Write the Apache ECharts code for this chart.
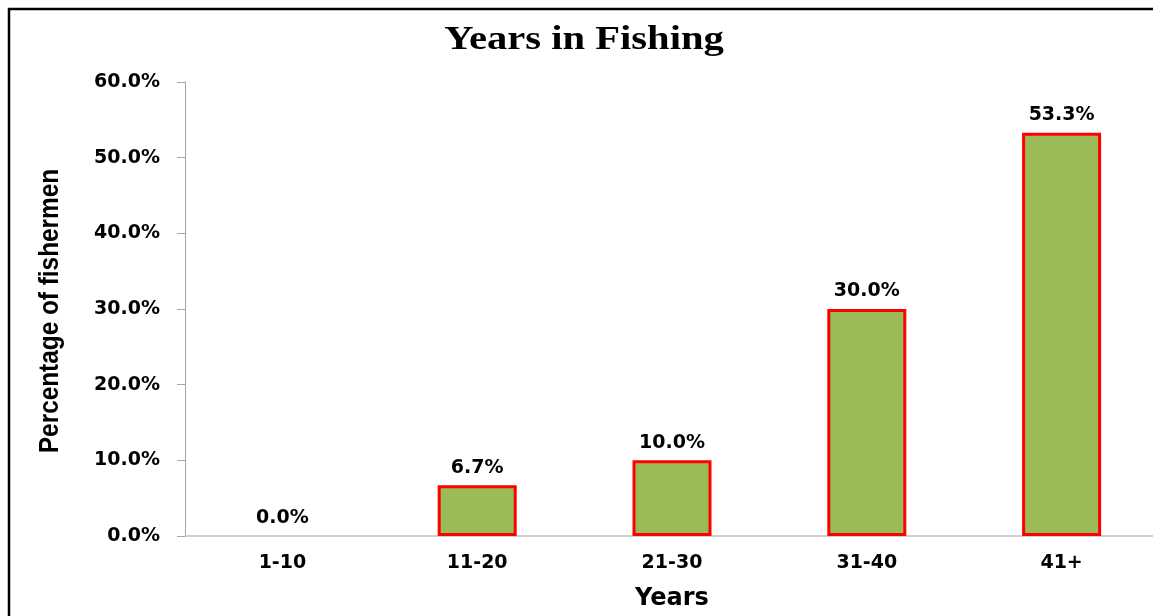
<!DOCTYPE html>
<html>
<head>
	<meta charset="utf-8" />
	<title>Years in Fishing</title>
	<script src="https://cdn.jsdelivr.net/npm/echarts@6/dist/echarts.min.js"></script>
	<style>
		html, body { margin: 0; padding: 0; background: #fff; overflow: hidden; }
		#main { width: 1153px; height: 616px; }
	</style>
</head>
<body>
	<div id="main"></div>

	<script type="text/javascript">
		// data
		var years = ['1-10', '11-20', '21-30', '31-40', '41+'];
		var percentFishermen = [0.0, 6.7, 10.0, 30.0, 53.3];
		var yTicks = [0, 10, 20, 30, 40, 50, 60];

		var labelFont = '"DejaVu Sans", Verdana, sans-serif';

		var myChart = echarts.init(document.getElementById('main'));

		// a bar of 0 shows no outline
		var barData = percentFishermen.map(function (v) {
			return v === 0 ? { value: v, itemStyle: { borderWidth: 0 } } : v;
		});

		var option = {
			animation: false,
			backgroundColor: '#fff',
			graphic: [{
				// frame round the chart (left and top edges show)
				type: 'rect',
				shape: { x: 9, y: 9, width: 1160, height: 620 },
				style: { fill: 'none', stroke: '#000', lineWidth: 2.5 },
				silent: true
			}, {
				// title, stretched wide like the original
				type: 'text',
				x: 584,
				y: 40,
				scaleX: 1.23,
				style: {
					text: 'Years in Fishing',
					align: 'center',
					verticalAlign: 'middle',
					font: 'bold 33px "Liberation Serif", "DejaVu Serif", serif',
					fill: '#000'
				},
				silent: true
			}, {
				// y axis title, narrow and tall
				type: 'text',
				x: 50,
				y: 311,
				rotation: Math.PI / 2,
				scaleX: 0.87,
				style: {
					text: 'Percentage of fishermen',
					align: 'center',
					verticalAlign: 'middle',
					font: 'bold 28px "Liberation Sans", Arial, sans-serif',
					fill: '#000'
				},
				silent: true
			}],
			grid: {
				left: 185,
				top: 82,
				width: 974,
				height: 454,
				outerBoundsMode: 'none',
				containLabel: false
			},
			xAxis: {
				type: 'category',
				data: years,
				name: 'Years',
				nameLocation: 'middle',
				nameGap: 51,
				nameTextStyle: {
					fontFamily: labelFont,
					fontWeight: 'bold',
					fontSize: 24,
					color: '#000'
				},
				axisLine: { lineStyle: { color: '#d0d0d0', width: 2 } },
				axisTick: { show: false },
				axisLabel: {
					margin: 18,
					fontFamily: labelFont,
					fontWeight: 'bold',
					fontSize: 19,
					color: '#000'
				}
			},
			yAxis: {
				type: 'value',
				min: 0,
				max: 60,
				interval: 10,
				axisLine: { show: true, lineStyle: { color: '#a6a6a6', width: 1 } },
				axisTick: { show: true, inside: false, length: 8, lineStyle: { color: '#a6a6a6' } },
				splitLine: { show: false },
				axisLabel: {
					margin: 25,
					fontFamily: labelFont,
					fontWeight: 'bold',
					fontSize: 19,
					color: '#000',
					formatter: function (v) {
						return yTicks.indexOf(v) >= 0 ? v.toFixed(1) + '%' : '';
					}
				}
			},
			series: [{
				type: 'bar',
				data: barData,
				barWidth: 79,
				itemStyle: {
					color: '#9bbb59',
					borderColor: '#ff0000',
					borderWidth: 3
				},
				label: {
					show: true,
					position: 'top',
					distance: 8,
					fontFamily: labelFont,
					fontWeight: 'bold',
					fontSize: 19,
					color: '#000',
					formatter: function (p) {
						return p.value.toFixed(1) + '%';
					}
				}
			}]
		};

		myChart.setOption(option);
	</script>
</body>
</html>
